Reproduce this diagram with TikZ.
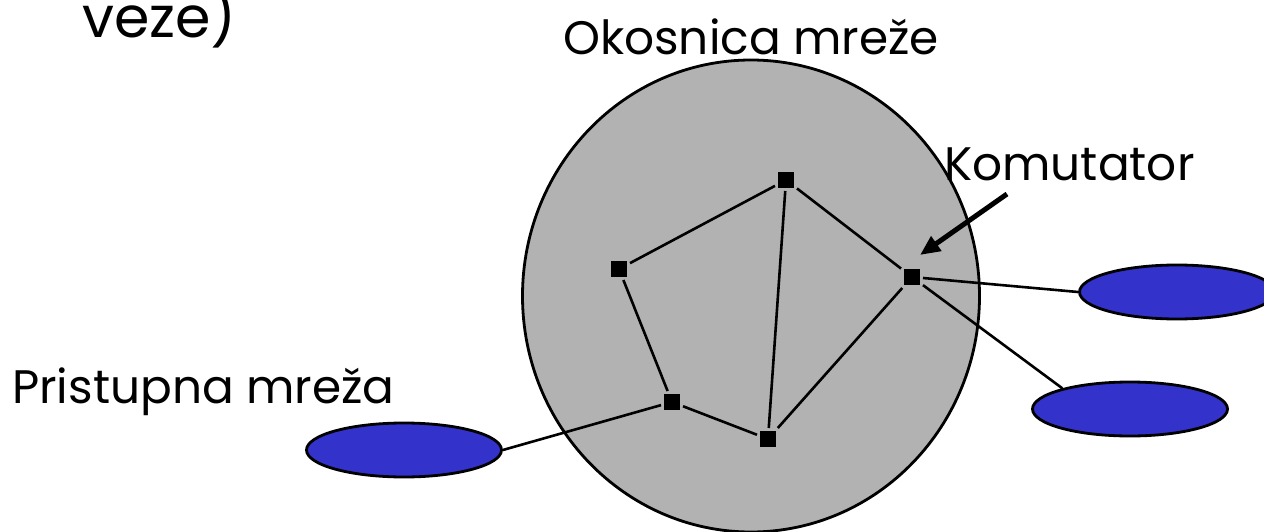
\documentclass[tikz,border=0pt]{standalone}
\usepackage{fontspec}
\setmainfont{Poppins}
\usetikzlibrary{shapes.geometric,arrows.meta}
\definecolor{coregray}{HTML}{B2B2B2}
\definecolor{accblue}{HTML}{3333CC}
\tikzset{
  sw/.style={rectangle,fill=black,minimum size=16pt,inner sep=0pt,outer sep=3pt},
  acc/.style={ellipse,draw=black,line width=2.8pt,fill=accblue,minimum width=195pt,minimum height=54pt,inner sep=0pt},
  link/.style={line width=2.6pt},
  lbl/.style={anchor=base west,inner sep=0pt,font=\fontsize{47}{54}\selectfont}
}
\begin{document}
\begin{tikzpicture}[x=1pt,y=-1pt]
\useasboundingbox (0,0) rectangle (1264,532);
\node[ellipse,draw=black,line width=2.8pt,fill=coregray,minimum width=457pt,minimum height=472pt,inner sep=0pt] (core) at (751,296) {};
\node[sw] (a) at (786,180) {};
\node[sw] (b) at (619,269) {};
\node[sw] (c) at (912,277) {};
\node[sw] (d) at (672,402) {};
\node[sw] (e) at (768,439) {};
\node[acc] (r1) at (1177,292) {};
\node[acc] (r2) at (1130,409) {};
\node[acc] (l1) at (404,450) {};
\draw[link] (b) -- (a);
\draw[link] (a) -- (c);
\draw[link] (a) -- (e);
\draw[link] (b) -- (d);
\draw[link] (d) -- (e);
\draw[link] (e) -- (c);
\draw[link] (c) -- (r1.west);
\draw[link] (c) -- (r2.163);
\draw[link] (d) -- (l1.east);
\coordinate (arrstart) at (1007,194);
\draw[line width=5pt,-{Triangle[length=20pt,width=17pt]}] (arrstart) -- ([shift={(8pt,22pt)}]c.center);
\node[lbl,font=\fontsize{57}{64}\selectfont] (t0) at (82,38) {veze)};
\node[lbl] (t1) at (563,55) {Okosnica mreže};
\node[lbl] (t2) at (944,180) {Komutator};
\node[lbl] (t3) at (12,403) {Pristupna mreža};
\end{tikzpicture}
\end{document}
